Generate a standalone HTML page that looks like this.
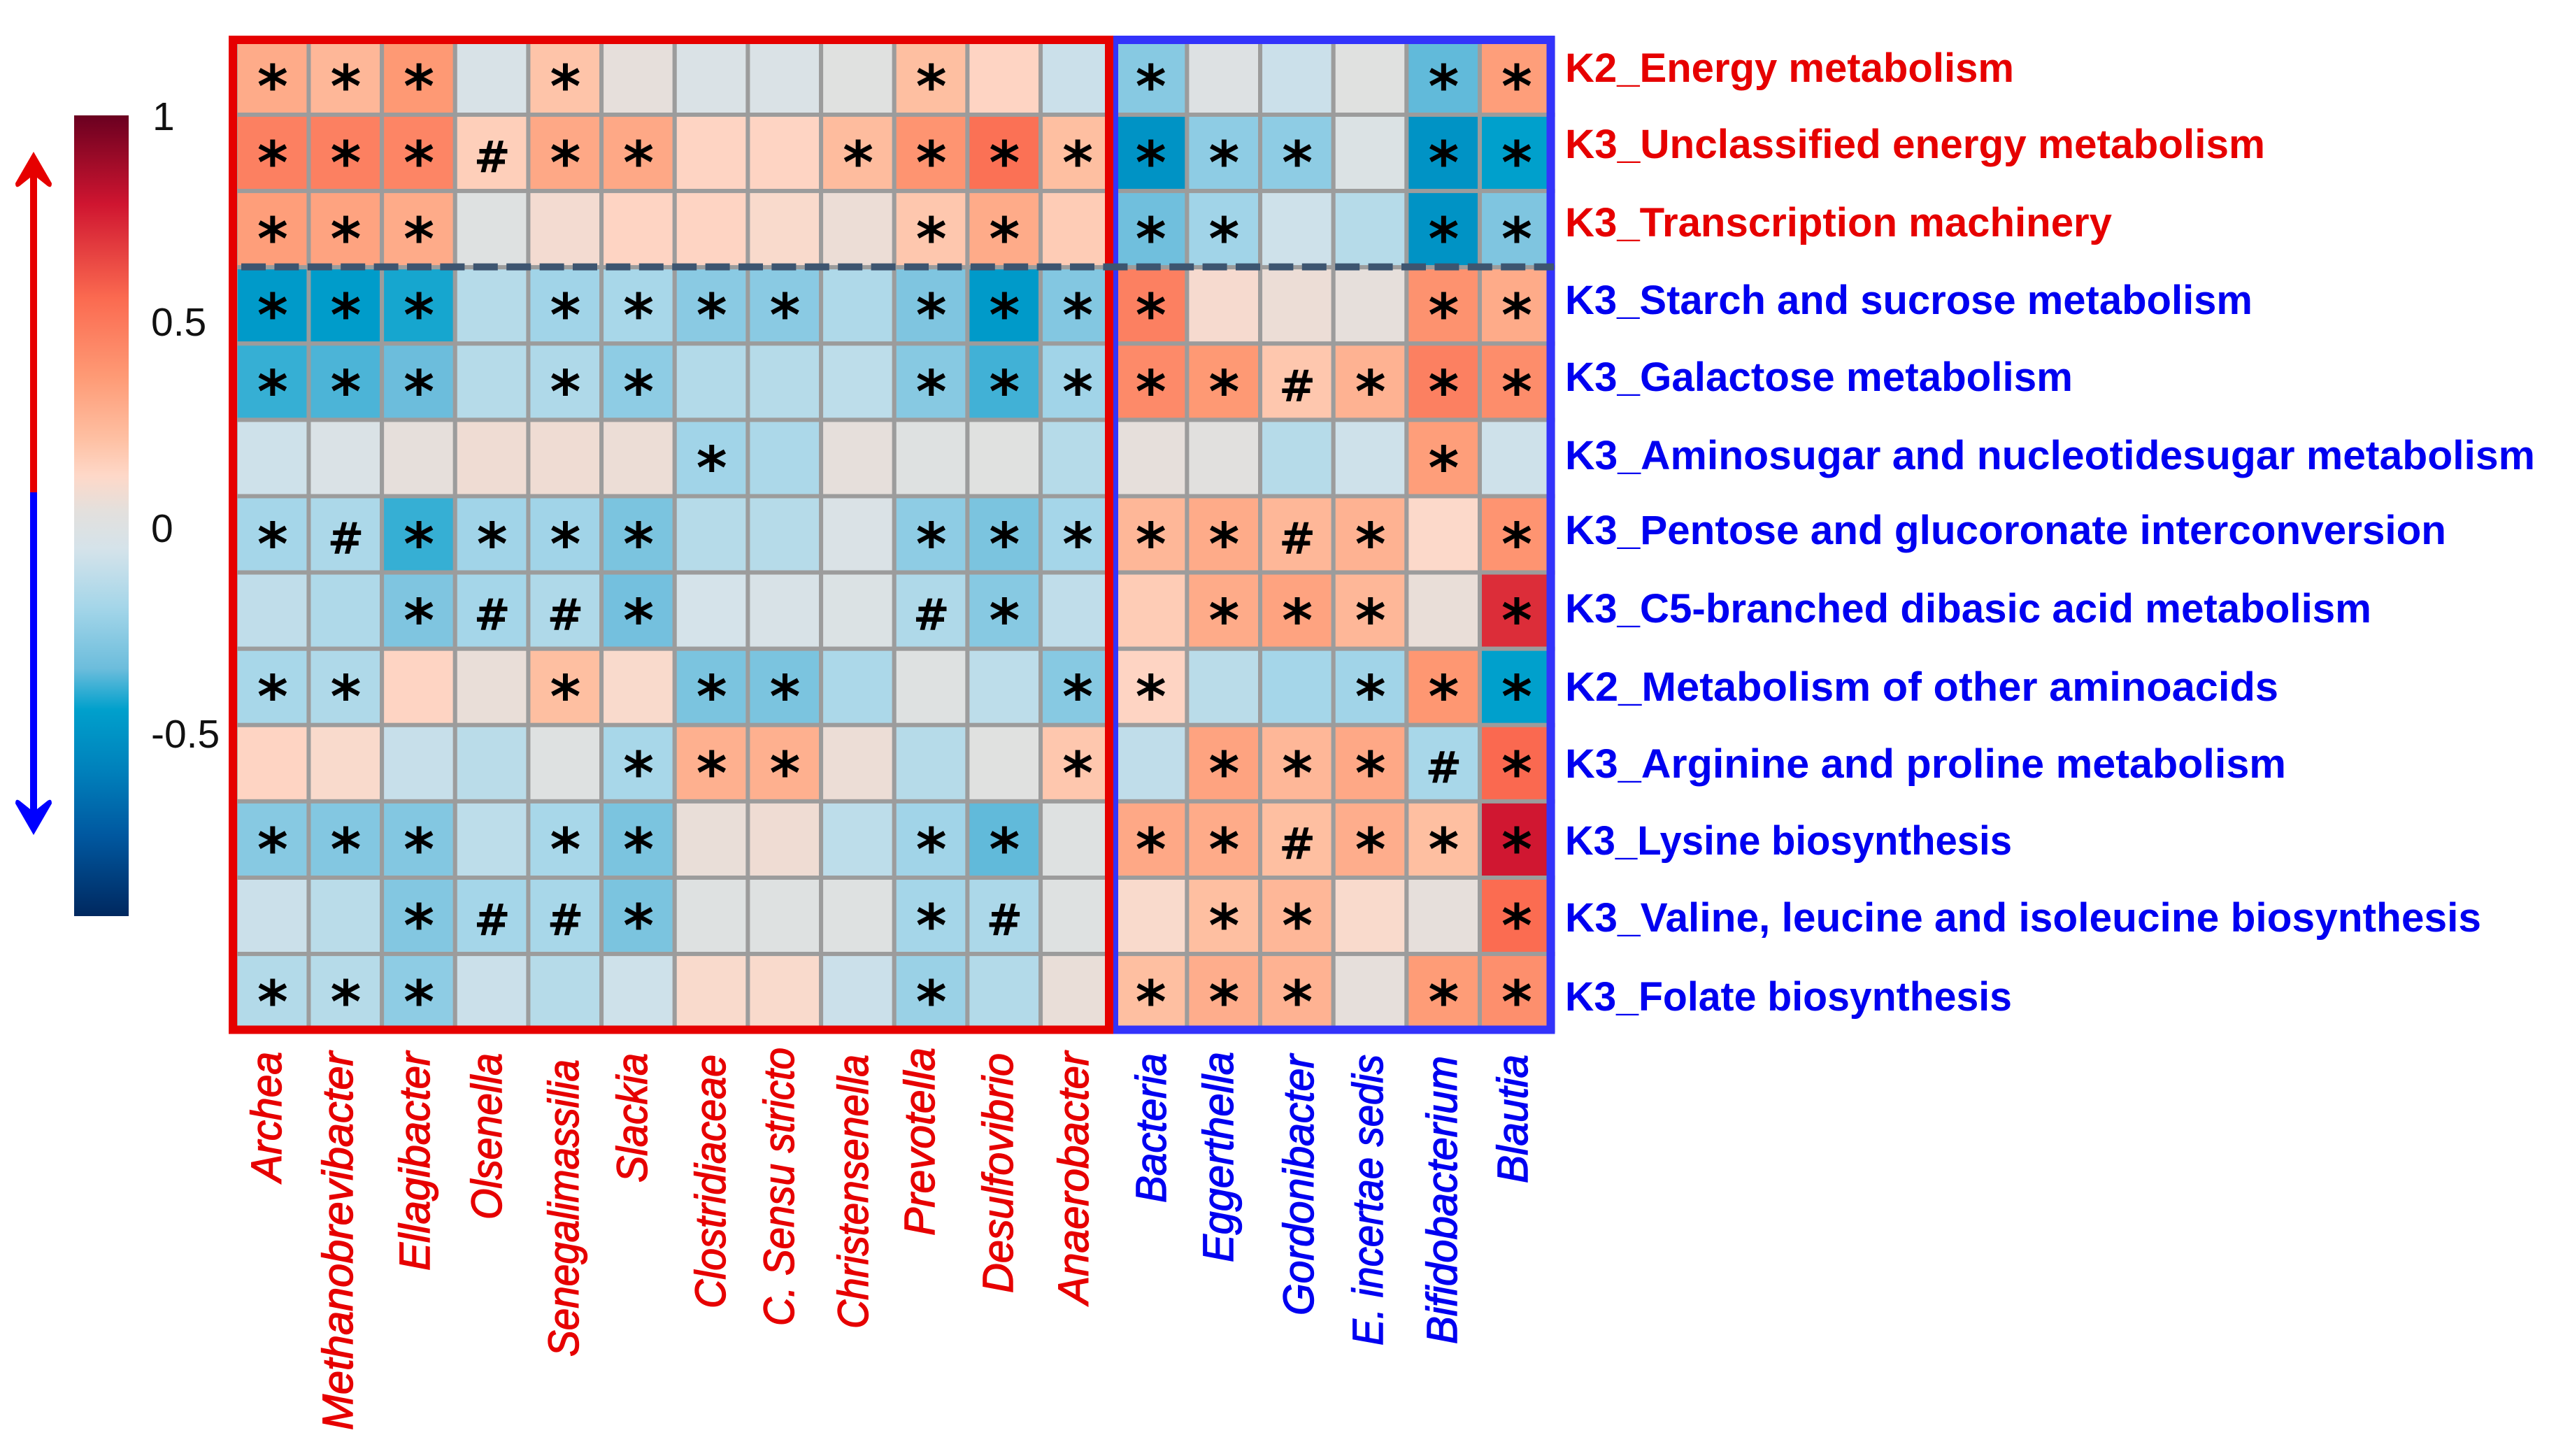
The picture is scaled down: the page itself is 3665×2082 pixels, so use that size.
<!DOCTYPE html>
<html lang="en">
<head>
<meta charset="utf-8">
<title>Correlation heatmap of KEGG pathways and bacterial genera</title>
<style>
html,body{margin:0;padding:0;background:#fff;}
svg{display:block;}
.rl{font-family:"Liberation Sans",sans-serif;font-weight:700;font-size:58px;}
.cl{font-family:"Liberation Sans",sans-serif;font-style:italic;font-size:61px;stroke-width:1.4px;}
.tick{font-family:"Liberation Sans",sans-serif;font-size:57px;fill:#111;}
.red{fill:#e60000;}
.blue{fill:#0000f0;}
.cl.red{stroke:#e60000;}
.cl.blue{stroke:#0000f0;}
</style>
</head>
<body>
<svg id="chart" xmlns="http://www.w3.org/2000/svg" width="3665" height="2082" viewBox="0 0 3665 2082">
  <defs id="defs"></defs>
  <rect x="0" y="0" width="3665" height="2082" fill="#fff"/>
  <g id="cells"></g>
  <g id="markers"></g>

  <rect x="1593" y="57" width="624.5" height="1415.5" fill="none" stroke="#3333fb" stroke-width="12"/>
  <rect x="333" y="57" width="1253" height="1415.5" fill="none" stroke="#e60000" stroke-width="12"/>
  <line x1="345" y1="381.6" x2="2222" y2="381.6" stroke="#3d5570" stroke-width="10" stroke-dasharray="35 12.4"/>

  <rect id="colorbar" x="106" y="165" width="78" height="1145"/>
  <text class="tick" x="218" y="186">1</text>
  <text class="tick" x="216" y="480">0.5</text>
  <text class="tick" x="216" y="775">0</text>
  <text class="tick" x="216" y="1069">-0.5</text>

  <g>
    <line x1="48" y1="706" x2="48" y2="240" stroke="#e60000" stroke-width="10"/>
    <path d="M48 217 L74 262 Q74 270 68 266 L48 250 L28 266 Q22 270 22 262 Z" fill="#e60000"/>
  </g>
  <g>
    <line x1="48" y1="704" x2="48" y2="1170" stroke="#0000ff" stroke-width="10"/>
    <path d="M48 1194 L74 1149 Q74 1141 68 1145 L48 1161 L28 1145 Q22 1141 22 1149 Z" fill="#0000ff"/>
  </g>

  <g>
    <text class="rl red" x="2238" y="117" textLength="642" lengthAdjust="spacingAndGlyphs">K2_Energy metabolism</text>
    <text class="rl red" x="2238" y="226" textLength="1001" lengthAdjust="spacingAndGlyphs">K3_Unclassified energy metabolism</text>
    <text class="rl red" x="2238" y="338" textLength="782" lengthAdjust="spacingAndGlyphs">K3_Transcription machinery</text>
    <text class="rl blue" x="2238" y="449" textLength="983" lengthAdjust="spacingAndGlyphs">K3_Starch and sucrose metabolism</text>
    <text class="rl blue" x="2238" y="559" textLength="726" lengthAdjust="spacingAndGlyphs">K3_Galactose metabolism</text>
    <text class="rl blue" x="2238" y="671" textLength="1387" lengthAdjust="spacingAndGlyphs">K3_Aminosugar and nucleotidesugar metabolism</text>
    <text class="rl blue" x="2238" y="778" textLength="1260" lengthAdjust="spacingAndGlyphs">K3_Pentose and glucoronate interconversion</text>
    <text class="rl blue" x="2238" y="890" textLength="1153" lengthAdjust="spacingAndGlyphs">K3_C5-branched dibasic acid metabolism</text>
    <text class="rl blue" x="2238" y="1002" textLength="1020" lengthAdjust="spacingAndGlyphs">K2_Metabolism of other aminoacids</text>
    <text class="rl blue" x="2238" y="1112" textLength="1031" lengthAdjust="spacingAndGlyphs">K3_Arginine and proline metabolism</text>
    <text class="rl blue" x="2238" y="1222" textLength="639" lengthAdjust="spacingAndGlyphs">K3_Lysine biosynthesis</text>
    <text class="rl blue" x="2238" y="1332" textLength="1310" lengthAdjust="spacingAndGlyphs">K3_Valine, leucine and isoleucine biosynthesis</text>
    <text class="rl blue" x="2238" y="1445" textLength="639" lengthAdjust="spacingAndGlyphs">K3_Folate biosynthesis</text>
  </g>

  <g>
    <text class="cl red" transform="translate(402,1690) rotate(-90)" textLength="186" lengthAdjust="spacingAndGlyphs">Archea</text>
    <text class="cl red" transform="translate(504,2045) rotate(-90)" textLength="541" lengthAdjust="spacingAndGlyphs">Methanobrevibacter</text>
    <text class="cl red" transform="translate(614,1817) rotate(-90)" textLength="313" lengthAdjust="spacingAndGlyphs">Ellagibacter</text>
    <text class="cl red" transform="translate(717,1744) rotate(-90)" textLength="238" lengthAdjust="spacingAndGlyphs">Olsenella</text>
    <text class="cl red" transform="translate(827,1940) rotate(-90)" textLength="425" lengthAdjust="spacingAndGlyphs">Senegalimassilia</text>
    <text class="cl red" transform="translate(925,1691) rotate(-90)" textLength="185" lengthAdjust="spacingAndGlyphs">Slackia</text>
    <text class="cl red" transform="translate(1037,1871) rotate(-90)" textLength="363" lengthAdjust="spacingAndGlyphs">Clostridiaceae</text>
    <text class="cl red" transform="translate(1135,1896) rotate(-90)" textLength="398" lengthAdjust="spacingAndGlyphs">C. Sensu stricto</text>
    <text class="cl red" transform="translate(1241,1900) rotate(-90)" textLength="392" lengthAdjust="spacingAndGlyphs">Christensenella</text>
    <text class="cl red" transform="translate(1336,1767) rotate(-90)" textLength="269" lengthAdjust="spacingAndGlyphs">Prevotella</text>
    <text class="cl red" transform="translate(1448,1849) rotate(-90)" textLength="343" lengthAdjust="spacingAndGlyphs">Desulfovibrio</text>
    <text class="cl red" transform="translate(1556,1865) rotate(-90)" textLength="361" lengthAdjust="spacingAndGlyphs">Anaerobacter</text>
    <text class="cl blue" transform="translate(1667,1720) rotate(-90)" textLength="214" lengthAdjust="spacingAndGlyphs">Bacteria</text>
    <text class="cl blue" transform="translate(1763,1805) rotate(-90)" textLength="301" lengthAdjust="spacingAndGlyphs">Eggerthella</text>
    <text class="cl blue" transform="translate(1878,1881) rotate(-90)" textLength="373" lengthAdjust="spacingAndGlyphs">Gordonibacter</text>
    <text class="cl blue" transform="translate(1977,1924) rotate(-90)" textLength="416" lengthAdjust="spacingAndGlyphs">E. incertae sedis</text>
    <text class="cl blue" transform="translate(2083,1922) rotate(-90)" textLength="412" lengthAdjust="spacingAndGlyphs">Bifidobacterium</text>
    <text class="cl blue" transform="translate(2184,1692) rotate(-90)" textLength="184" lengthAdjust="spacingAndGlyphs">Blautia</text>
  </g>
</svg>
<script>
// Correlation values, one array per pathway (row).
var k2Energy        = [ .30, .25, .37,-.03, .20, .05,-.02,-.02, .02, .22, .14,-.08,-.27, .00,-.08, .02,-.35, .35];
var k3Unclassified  = [ .47, .47, .45, .16, .31, .31, .14, .14, .23, .39, .53, .22,-.50,-.25,-.25,-.01,-.50,-.44];
var k3Transcription = [ .35, .33, .30, .01, .09, .14, .14, .11, .07, .19, .30, .17,-.33,-.20,-.07,-.14,-.50,-.29];
var k3Starch        = [-.47,-.46,-.42,-.14,-.20,-.18,-.26,-.26,-.16,-.29,-.47,-.28, .47, .10, .07, .05, .40, .30];
var k3Galactose     = [-.39,-.37,-.34,-.14,-.16,-.25,-.15,-.14,-.12,-.27,-.38,-.20, .43, .37, .19, .27, .47, .42];
var k3Aminosugar    = [-.07,-.02, .05, .08, .08, .07,-.20,-.17, .05, .01, .02,-.14, .05, .03,-.14,-.07, .35,-.07];
var k3Pentose       = [-.19,-.17,-.39,-.20,-.20,-.30,-.14,-.14,-.02,-.25,-.30,-.19, .25, .30, .25, .27, .12, .39];
var k3C5Branched    = [-.11,-.16,-.29,-.19,-.16,-.32,-.05,-.03,-.01,-.16,-.27,-.11, .17, .30, .33, .25, .06, .72];
var k2OtherAmino    = [-.18,-.16, .14, .06, .22, .11,-.30,-.30,-.17, .01,-.12,-.27, .14,-.13,-.19,-.20, .38,-.44];
var k3Arginine      = [ .14, .11,-.09,-.13, .01,-.18, .28, .28, .07,-.14, .02, .19,-.11, .33, .25, .31,-.18, .56];
var k3Lysine        = [-.27,-.28,-.28,-.12,-.18,-.30, .06, .08,-.12,-.20,-.35, .01, .31, .30, .22, .29, .22, .78];
var k3Valine        = [-.08,-.13,-.28,-.19,-.18,-.30, .01, .01, .01,-.19,-.17, .01, .11, .22, .25, .11, .05, .55];
var k3Folate        = [-.15,-.14,-.25,-.08,-.14,-.07, .11, .11,-.08,-.22,-.15, .06, .22, .29, .27, .05, .36, .41];

// Significance markers, one string per pathway; "." means no marker.
var marksEnergy        = "***.*....*..*...**";
var marksUnclassified  = "***#**..*******.**";
var marksTranscription = "***......**.**..**";
var marksStarch        = "***.****.****...**";
var marksGalactose     = "***.**...*****#***";
var marksAminosugar    = "......*.........*.";
var marksPentose       = "*#****...*****#*.*";
var marksC5Branched    = "..*##*...#*..***.*";
var marksOtherAmino    = "**..*.**...**..***";
var marksArginine      = ".....***...*.***#*";
var marksLysine        = "***.**...**.**#***";
var marksValine        = "..*##*...*#..**..*";
var marksFolate        = "***......*..***.**";

// Colour ramp of the colorbar: values and matching colours.
var rampValues = [1, .785, .557, .367, .215, .127, .04, -.05, -.19, -.34, -.44, -.59, -.745, -.94];
var rampColors = ["#6a0020","#cf1530","#fb6a50","#fe9a75","#fec0a3","#fed8c8","#e3e0dd","#d5e3ea","#a5d6e9","#6cbddc","#00a0cc","#0080bb","#0058a0","#00285f"];

var rowValues = [k2Energy,k3Unclassified,k3Transcription,k3Starch,k3Galactose,k3Aminosugar,k3Pentose,k3C5Branched,k2OtherAmino,k3Arginine,k3Lysine,k3Valine,k3Folate];
var rowMarks = [marksEnergy,marksUnclassified,marksTranscription,marksStarch,marksGalactose,marksAminosugar,marksPentose,marksC5Branched,marksOtherAmino,marksArginine,marksLysine,marksValine,marksFolate];

var SVGNS = "http://www.w3.org/2000/svg";
function xCol(i){ return 336.8 + i * 104.66; }
function yRow(j){ return 54.9 + j * 109.1; }
function hex(c){ return [parseInt(c.substr(1,2),16),parseInt(c.substr(3,2),16),parseInt(c.substr(5,2),16)]; }
function colorOf(v){
  if (v >= rampValues[0]) return rampColors[0];
  for (var k = 1; k < rampValues.length; k++) {
    if (v >= rampValues[k]) {
      var t = (v - rampValues[k]) / (rampValues[k-1] - rampValues[k]);
      var a = hex(rampColors[k]), b = hex(rampColors[k-1]);
      return "rgb(" + Math.round(a[0]+(b[0]-a[0])*t) + "," + Math.round(a[1]+(b[1]-a[1])*t) + "," + Math.round(a[2]+(b[2]-a[2])*t) + ")";
    }
  }
  return rampColors[rampColors.length-1];
}

var gradient = document.createElementNS(SVGNS, "linearGradient");
gradient.setAttribute("id", "rampGradient");
gradient.setAttribute("x1", "0"); gradient.setAttribute("y1", "0");
gradient.setAttribute("x2", "0"); gradient.setAttribute("y2", "1");
var vMax = rampValues[0], vMin = rampValues[rampValues.length-1];
rampValues.forEach(function(v, k){
  var stop = document.createElementNS(SVGNS, "stop");
  stop.setAttribute("offset", String((vMax - v) / (vMax - vMin)));
  stop.setAttribute("stop-color", rampColors[k]);
  gradient.appendChild(stop);
});
document.getElementById("defs").appendChild(gradient);
document.getElementById("colorbar").setAttribute("fill", "url(#rampGradient)");

var cellsGroup = document.getElementById("cells");
var markersGroup = document.getElementById("markers");
rowValues.forEach(function(values, j){
  values.forEach(function(v, i){
    var rect = document.createElementNS(SVGNS, "rect");
    
    
    rect.setAttribute("x", xCol(i));
    rect.setAttribute("y", yRow(j));
    rect.setAttribute("width", xCol(i+1) - xCol(i));
    rect.setAttribute("height", yRow(j+1) - yRow(j));
    rect.setAttribute("fill", colorOf(v));
    rect.setAttribute("stroke", "#9c9c9c");
    rect.setAttribute("stroke-width", "6");
    cellsGroup.appendChild(rect);

    var m = rowMarks[j].charAt(i);
    if (m === "*" || m === "#") {
      var t = document.createElementNS(SVGNS, "text");
      
      
      t.setAttribute("x", xCol(i) + 53);
      t.setAttribute("text-anchor", "middle");
      t.setAttribute("fill", "#000");
      if (m === "*") {
        t.setAttribute("y", yRow(j) + 98);
        t.setAttribute("font-family", '"DejaVu Sans", sans-serif');
        t.setAttribute("font-weight", "700");
        t.setAttribute("font-size", "84");
      } else {
        t.setAttribute("y", yRow(j) + 82);
        t.setAttribute("font-family", '"DejaVu Sans", sans-serif');
        t.setAttribute("font-weight", "700");
        t.setAttribute("font-size", "62");
      }
      t.appendChild(document.createTextNode(m));
      markersGroup.appendChild(t);
    }
  });
});
</script>
</body>
</html>
